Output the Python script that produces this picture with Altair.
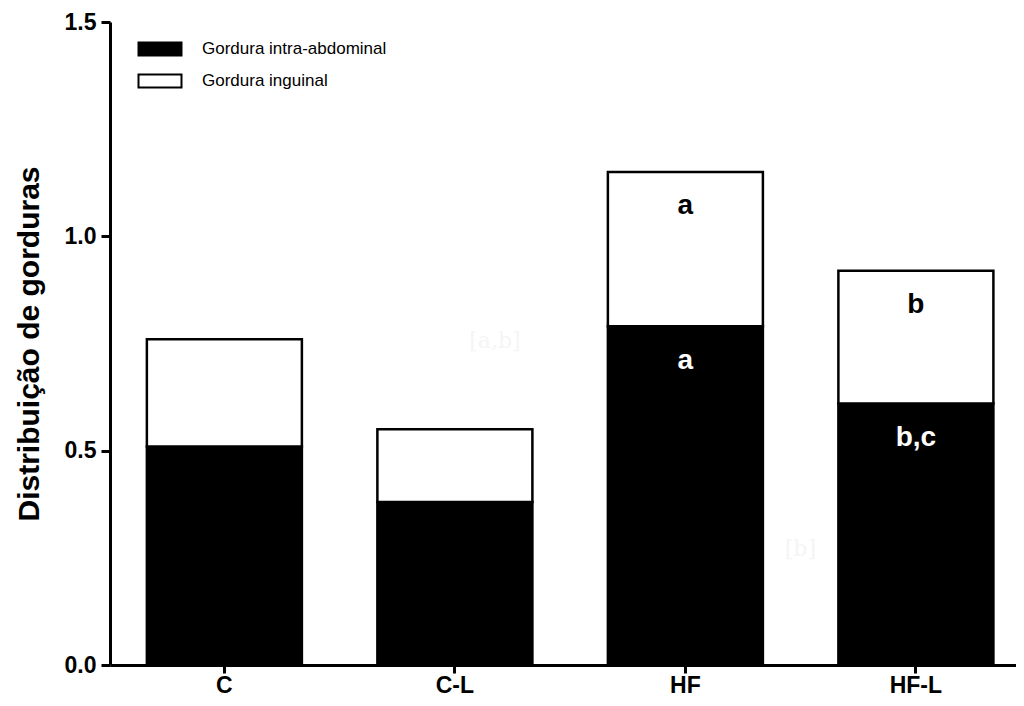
import altair as alt
import pandas as pd

groups = ["C", "C-L", "HF", "HF-L"]
intra_abdominal = [0.51, 0.38, 0.79, 0.61]
inguinal = [0.25, 0.17, 0.36, 0.31]
series = ["Gordura intra-abdominal", "Gordura inguinal"]

label_groups = ["HF", "HF", "HF-L", "HF-L"]
label_texts = ["a", "a", "b", "b,c"]
label_y = [1.07, 0.71, 0.84, 0.53]
label_colors = ["black", "white", "black", "white"]

faint_groups = ["C-L", "HF"]
faint_texts = ["[a,b]", "[b]"]
faint_y = [0.756, 0.271]

rows = []
for g, a, b in zip(groups, intra_abdominal, inguinal):
    rows.append({"grupo": g, "serie": series[0], "valor": a, "ordem": 0})
    rows.append({"grupo": g, "serie": series[1], "valor": b, "ordem": 1})
df = pd.DataFrame(rows)

labels_df = pd.DataFrame({"grupo": label_groups, "texto": label_texts,
                          "y": label_y, "cor": label_colors})
faint_df = pd.DataFrame({"grupo": faint_groups, "texto": faint_texts, "y": faint_y})

FONT = "Liberation Sans"
TICK_FONT = 23

x_enc = alt.X("grupo:N", sort=groups,
              scale=alt.Scale(paddingInner=0.3275, paddingOuter=0.129, align=0.62),
              axis=alt.Axis(title=None, labelAngle=0, labelPadding=1, tickSize=8,
                            labelFont=FONT, labelFontWeight="bold",
                            labelFontSize=TICK_FONT, labelColor="black"))
y_scale = alt.Scale(domain=[0, 1.5], nice=False)

bars = alt.Chart(df).mark_bar(stroke="black", strokeWidth=2.5).encode(
    x=x_enc,
    y=alt.Y("sum(valor):Q", scale=y_scale,
            axis=alt.Axis(title="Distribuição de gorduras", values=[0, 0.5, 1.0, 1.5],
                          format=".1f", titlePadding=20, titleFontSize=30,
                          titleFont=FONT, titleFontWeight="bold", titleColor="black",
                          labelPadding=5, tickSize=9,
                          labelFont=FONT, labelFontWeight="bold",
                          labelFontSize=TICK_FONT, labelColor="black")),
    color=alt.Color("serie:N", sort=series,
                    scale=alt.Scale(domain=series, range=["black", "white"]),
                    legend=alt.Legend(title=None, orient="none", legendX=38, legendY=15,
                                      symbolType="M-2,-0.6H2V0.6H-2Z", symbolSize=462,
                                      symbolStrokeColor="black", symbolStrokeWidth=2,
                                      labelFont=FONT, labelFontSize=17, labelColor="black",
                                      labelLimit=0, labelOffset=30, rowPadding=9, padding=0)),
    order=alt.Order("ordem:Q", sort="ascending"),
)

texts = alt.Chart(labels_df).mark_text(font=FONT, fontWeight="bold", fontSize=28,
                                       baseline="middle", align="center").encode(
    x=alt.X("grupo:N", sort=groups),
    y=alt.Y("y:Q", scale=y_scale),
    text="texto:N",
    color=alt.Color("cor:N", scale=None),
)

faint1 = alt.Chart(faint_df.iloc[[0]]).mark_text(font="DejaVu Serif", fontSize=22, dx=40,
                                                  color="#f5f5f5", baseline="middle").encode(
    x=alt.X("grupo:N", sort=groups), y=alt.Y("y:Q", scale=y_scale), text="texto:N")
faint2 = alt.Chart(faint_df.iloc[[1]]).mark_text(font="DejaVu Serif", fontSize=22, dx=115,
                                                  color="#f5f5f5", baseline="middle").encode(
    x=alt.X("grupo:N", sort=groups), y=alt.Y("y:Q", scale=y_scale), text="texto:N")

chart = alt.layer(bars, faint1, faint2, texts).properties(
    width=906, height=643,
    padding={"left": 102, "top": 14, "right": 0, "bottom": 33},
    autosize="none",
).configure_view(stroke=None).configure_axis(
    domainColor="black", domainWidth=3, tickColor="black", tickWidth=3,
    grid=False,
)

chart.save("out.html", embed_options={"renderer": "svg", "actions": False})
